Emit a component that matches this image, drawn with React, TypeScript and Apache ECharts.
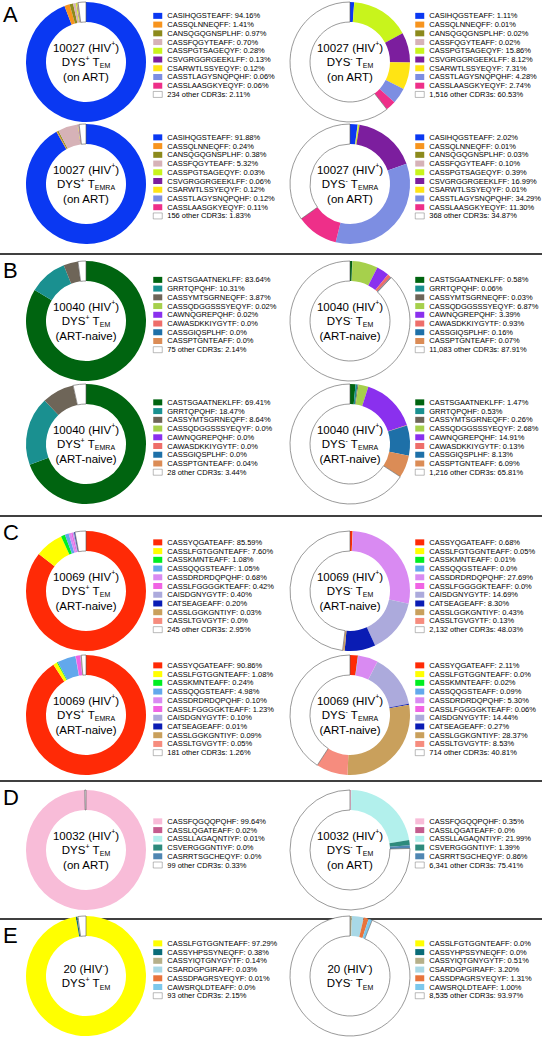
import React, { useEffect, useRef } from "react";
import * as echarts from "echarts";

// ---------------- DATA ----------------
const A_names = ["CASIHQGSTEAFF", "CASSQLNNEQFF", "CANSQGQGNSPLHF", "CASSFQGYTEAFF", "CASSPGTSAGEQYF", "CSVGRGGRGEEKLFF", "CSARWTLSSYEQYF", "CASSTLAGYSNQPQHF", "CASSLAASGKYEQYF"];
const A_colors = ["#0a38f2", "#f7941e", "#8c8a1c", "#d6b2b7", "#c8f41c", "#7c1e9e", "#ffe414", "#7d8ee2", "#ee2f89"];
const A1_values = [94.16, 1.41, 0.97, 0.70, 0.28, 0.13, 0.12, 0.06, 0.06, 2.11];
const A2_values = [1.11, 0.01, 0.02, 0.02, 15.86, 8.12, 7.31, 4.28, 2.74, 60.53];
const A3_values = [91.88, 0.24, 0.38, 5.32, 0.03, 0.06, 0.12, 0.12, 0.11, 1.83];
const A4_values = [2.02, 0.01, 0.03, 0.10, 0.39, 16.99, 0.01, 34.29, 11.30, 34.87];
const A_other = ["234", "1,516", "156", "368"];

const B_names = ["CASTSGAATNEKLFF", "GRRTQPQHF", "CASSYMTSGRNEQFF", "CASSQDGGSSSYEQYF", "CAWNQGREPQHF", "CAWASDKKIYGYTF", "CASSGIQSPLHF", "CASSPTGNTEAFF"];
const B_colors = ["#006410", "#1a9090", "#6e6558", "#a6d04c", "#8a30ee", "#ee6e6a", "#1e70a8", "#db8c56"];
const B1_values = [83.64, 10.31, 3.87, 0.02, 0.02, 0.0, 0.0, 0.0, 2.14];
const B2_values = [0.58, 0.06, 0.03, 6.87, 3.39, 0.93, 0.16, 0.07, 87.91];
const B3_values = [69.41, 18.47, 8.64, 0.0, 0.0, 0.0, 0.0, 0.04, 3.44];
const B4_values = [1.47, 0.53, 0.26, 2.68, 14.91, 0.13, 8.13, 6.09, 65.81];
const B_other = ["75", "11,083", "28", "1,216"];

const C_names = ["CASSYQGATEAFF", "CASSLFGTGGNTEAFF", "CASSKMNTEAFF", "CASSQQGSTEAFF", "CASSDRDRDQPQHF", "CASSLFGGGGKTEAFF", "CAISDGNYGYTF", "CATSEAGEAFF", "CASSLGGKGNTIYF", "CASSLTGVGYTF"];
const C_colors = ["#ff2a06", "#ffff00", "#00ee22", "#62a8ec", "#d98af2", "#f064e4", "#acaadc", "#0a1cb4", "#c9a05c", "#f68c7e"];
const C1_values = [85.59, 7.60, 1.08, 1.05, 0.68, 0.42, 0.40, 0.20, 0.03, 0.0, 2.95];
const C2_values = [0.68, 0.05, 0.01, 0.0, 27.69, 0.0, 14.69, 8.30, 0.43, 0.13, 48.03];
const C3_values = [90.86, 1.08, 0.24, 4.98, 0.10, 1.23, 0.10, 0.01, 0.09, 0.05, 1.26];
const C4_values = [2.11, 0.0, 0.02, 0.09, 5.30, 0.06, 14.44, 0.27, 28.37, 8.53, 40.81];
const C_other = ["245", "2,132", "181", "714"];

const D_names = ["CASSFQGQQPQHF", "CASSLQGATEAFF", "CASSLLAGAQNTIYF", "CSVERGGGNTIYF", "CASRRTSGCHEQYF"];
const D_colors = ["#f8bcd8", "#c45c8e", "#b2f0ec", "#2d8a7c", "#4f86b2"];
const D1_values = [99.64, 0.02, 0.01, 0.0, 0.0, 0.33];
const D2_values = [0.35, 0.0, 21.99, 1.39, 0.86, 75.41];
const D_other = ["99", "6,341"];

const E_names = ["CASSLFGTGGNTEAFF", "CASSYHPSSYNEQFF", "CASSYIQTGNYGYTF", "CSARDGPGIRAFF", "CASSDPAGRSYEQYF", "CAWSRQLDTEAFF"];
const E_colors = ["#ffff00", "#0a6c78", "#b6b08a", "#a8d8e6", "#e8743c", "#7cc8ec"];
const E1_values = [97.29, 0.38, 0.14, 0.03, 0.01, 0.0, 2.15];
const E2_values = [0.0, 0.0, 0.51, 3.20, 1.31, 1.00, 93.97];
const E_other = ["93", "8,535"];

const panelLetters = ["A", "B", "C", "D", "E"];
const donorIds = ["10027", "10040", "10069", "10032", "20"];
const donorHiv = ["+", "+", "+", "+", "-"];
const donorTherapy = ["(on ART)", "(ART-naive)", "(ART-naive)", "(on ART)", ""];
const dysSigns = ["+", "-"];
const subsetLabels = ["EM", "EMRA"];

// ---------------- LAYOUT ----------------
const W = 542;
const H = 1050;
const FONT = "Arial, Helvetica, sans-serif";
const colCx = [86, 350];
const legendX = [153, 415];
const R_IN = 40;
const R_OUT = 60;
const PITCH = 8.73;
const LEGEND_FONT = 7.5;
const CENTER_FONT = 11.5;
const panelRowsCy = [[62, 184], [321, 444], [591, 715], [850], [976]];
const panelLegendTop = [[11.5, 133], [275.5, 398], [538, 661], [817], [939]];
const separatorsY = [254, 516, 781, 919];
const letterTop = [3, 259, 521, 786, 924];

const fmt = (v: number) => (v === 0 ? "0.0" : v.toFixed(2));

const panels = [
  { names: A_names, colors: A_colors, values: [A1_values, A2_values, A3_values, A4_values], other: A_other },
  { names: B_names, colors: B_colors, values: [B1_values, B2_values, B3_values, B4_values], other: B_other },
  { names: C_names, colors: C_colors, values: [C1_values, C2_values, C3_values, C4_values], other: C_other },
  { names: D_names, colors: D_colors, values: [D1_values, D2_values], other: D_other },
  { names: E_names, colors: E_colors, values: [E1_values, E2_values], other: E_other },
];

function buildOption() {
  const series: any[] = [];
  const legends: any[] = [];
  const graphics: any[] = [];

  panels.forEach((p, pi) => {
    p.values.forEach((vals, di) => {
      const row = Math.floor(di / 2);
      const col = di % 2;
      const cx = colCx[col];
      const cy = panelRowsCy[pi][row];
      const data = vals.map((v, i) => {
        const isOther = i === p.names.length;
        const name = isOther
          ? `${p.other[di]} other CDR3s: ${fmt(v)}%`
          : `${p.names[i]}: ${fmt(v)}%`;
        return {
          name,
          value: v,
          isOther,
          itemStyle: isOther
            ? { color: "#ffffff", borderColor: "#555", borderWidth: 0.6 }
            : { color: p.colors[i], borderWidth: 0 },
        };
      });
      series.push({
        type: "pie",
        center: [cx, cy],
        radius: [R_IN, R_OUT],
        startAngle: 90,
        clockwise: true,
        silent: true,
        avoidLabelOverlap: false,
        label: { show: false },
        labelLine: { show: false },
        emphasis: { disabled: true },
        data: data.map(({ isOther, ...d }) => d),
      });
      legends.push({
        orient: "vertical",
        left: legendX[col],
        top: panelLegendTop[pi][row],
        padding: 0,
        itemGap: 0,
        itemWidth: 9,
        itemHeight: 6,
        icon: "rect",
        selectedMode: false,
        textStyle: { fontSize: LEGEND_FONT, lineHeight: PITCH, color: "#000", fontFamily: FONT },
        data: data.map((d) =>
          d.isOther
            ? { name: d.name, itemStyle: { color: "#fff", borderColor: "#777", borderWidth: 0.5 } }
            : { name: d.name }
        ),
      });
      const lines = [
        `{t|${donorIds[pi]} (HIV}{sup|${donorHiv[pi]}}{t|)}`,
        `{t|DYS}{sup|${dysSigns[col]}}{t| T}{sub|${subsetLabels[row]}}`,
      ];
      if (donorTherapy[pi]) lines.push(`{t|${donorTherapy[pi]}}`);
      graphics.push({
        type: "text",
        x: cx,
        y: cy,
        silent: true,
        style: {
          text: lines.join("\n"),
          align: "center",
          verticalAlign: "middle",
          fill: "#000",
          fontFamily: FONT,
          fontSize: CENTER_FONT,
          rich: {
            t: { fontSize: CENTER_FONT, lineHeight: 14.5, fill: "#000", fontFamily: FONT },
            sup: { fontSize: 7, lineHeight: 7, verticalAlign: "top", fill: "#000", fontFamily: FONT },
            sub: { fontSize: 7, lineHeight: 7, verticalAlign: "bottom", fill: "#000", fontFamily: FONT },
          },
        },
      });
    });
    graphics.push({
      type: "text",
      x: 3,
      y: letterTop[pi],
      silent: true,
      style: { text: panelLetters[pi], fontSize: 22, fill: "#000", fontFamily: FONT, verticalAlign: "top", align: "left" },
    });
  });

  separatorsY.forEach((y) => {
    graphics.push({
      type: "line",
      silent: true,
      shape: { x1: 0, y1: y, x2: W, y2: y },
      style: { stroke: "#000", lineWidth: 1.5 },
    });
  });

  return {
    animation: false,
    backgroundColor: "#ffffff",
    textStyle: { fontFamily: FONT },
    legend: legends,
    series,
    graphic: graphics,
  };
}

export default function App() {
  const ref = useRef<HTMLDivElement>(null);
  useEffect(() => {
    document.body.style.margin = "0";
    if (!ref.current) return;
    const chart = echarts.init(ref.current, undefined, { renderer: "svg", width: W, height: H });
    chart.setOption(buildOption() as any);
    return () => chart.dispose();
  }, []);
  return <div ref={ref} style={{ width: W, height: H }} />;
}
